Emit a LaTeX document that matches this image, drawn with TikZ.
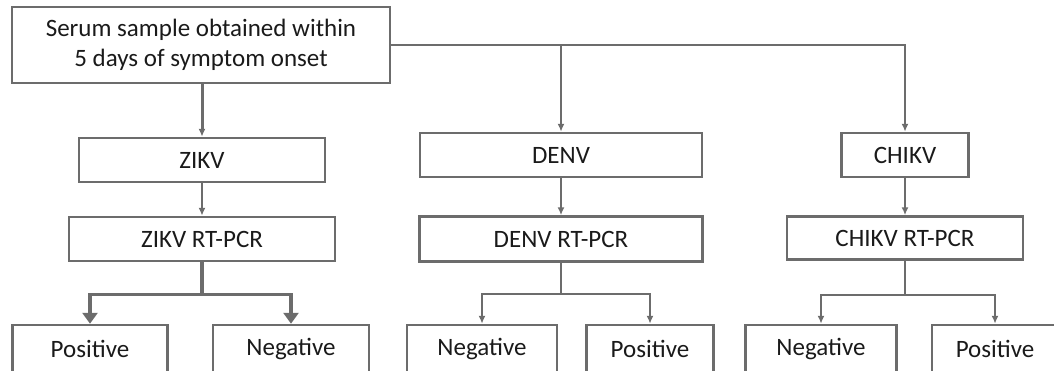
\documentclass[tikz,border=0pt]{standalone}
\usepackage{fontspec}
\setmainfont{Carlito}
\usetikzlibrary{arrows.meta}
\definecolor{linegray}{HTML}{6C6C6C}
\definecolor{textgray}{HTML}{1A1A1A}
\begin{document}
\begin{tikzpicture}[x=1pt,y=-1pt,
  box/.style={draw=linegray, line width=2.5pt, inner sep=0pt, text=textgray,
    font=\fontsize{25}{30}\selectfont, align=center},
  link/.style={draw=linegray, line width=2.5pt, -{Latex[length=8pt,width=7pt]}},
  biglink/.style={draw=linegray, line width=3.5pt, -{Triangle[length=11pt,width=15pt]}}]
  \useasboundingbox (0,0) rectangle (1054,370);
  \clip (0,0) rectangle (1054,370);
  % sample
  \node[box, minimum width=378pt, minimum height=76pt] (serum) at (201,45)
    {Serum sample obtained within\\5 days of symptom onset};
  % ZIKV
  \node[box, minimum width=246pt, minimum height=44pt] (zikv) at (202,160) {ZIKV};
  \node[box, minimum width=266pt, minimum height=44pt] (zikvpcr) at (202,239) {ZIKV RT-PCR};
  \node[box, minimum width=155pt, minimum height=48pt] (zikvpos) at (90,349) {Positive};
  \node[box, minimum width=156pt, minimum height=48pt] (zikvneg) at (291,349) {Negative};
  % DENV
  \node[box, minimum width=282pt, minimum height=44pt] (denv) at (561,155) {DENV};
  \node[box, minimum width=283pt, minimum height=45pt] (denvpcr) at (561,239) {DENV RT-PCR};
  \node[box, minimum width=150pt, minimum height=48pt] (denvneg) at (482,349) {Negative};
  \node[box, minimum width=127pt, minimum height=48pt] (denvpos) at (650,349) {Positive};
  % CHIKV
  \node[box, minimum width=127pt, minimum height=44pt] (chikv) at (905,155) {CHIKV};
  \node[box, minimum width=236pt, minimum height=43pt] (chikvpcr) at (905,238) {CHIKV RT-PCR};
  \node[box, minimum width=151pt, minimum height=48pt] (chikvneg) at (821,349) {Negative};
  \node[box, minimum width=126pt, minimum height=48pt] (chikvpos) at (995,349) {Positive};

  % from the sample
  \draw[link, line width=3pt] (serum.south -| zikv) -- (zikv.north);
  \draw[link] (serum.east) -| (chikv.north);
  \draw[link] (serum.east -| denv) -- (denv.north);
  \draw[link] (zikv) -- (zikvpcr);
  \draw[link] (denv) -- (denvpcr);
  \draw[link] (chikv) -- (chikvpcr);

  % results
  \path (zikvpcr.south) ++(0,32) coordinate (zikvfork);
  \draw[linegray, line width=3.5pt] (zikvpcr.south) -- (zikvfork);
  \draw[biglink] (zikvfork) -| (zikvpos.north);
  \draw[biglink] (zikvfork) -| (zikvneg.north);
  \path (denvpcr.south) ++(0,31) coordinate (denvfork);
  \draw[linegray, line width=2.5pt] (denvpcr.south) -- (denvfork);
  \draw[link] (denvfork) -| (denvneg.north);
  \draw[link] (denvfork) -| (denvpos.north);
  \path (chikvpcr.south) ++(0,34) coordinate (chikvfork);
  \draw[linegray, line width=2.5pt] (chikvpcr.south) -- (chikvfork);
  \draw[link] (chikvfork) -| (chikvneg.north);
  \draw[link] (chikvfork) -| (chikvpos.north);
\end{tikzpicture}
\end{document}
